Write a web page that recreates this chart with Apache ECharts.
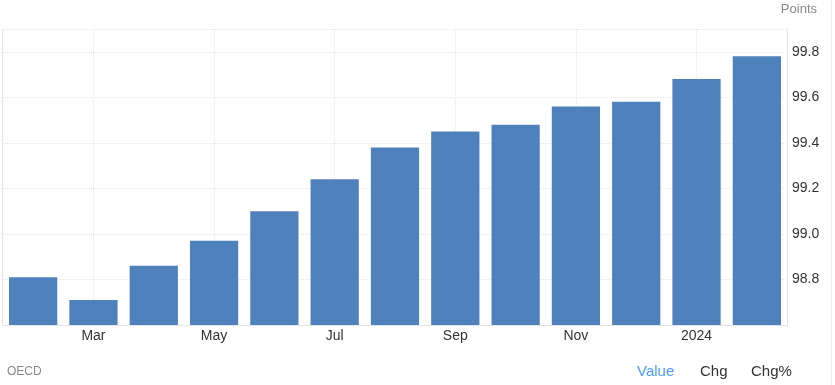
<!DOCTYPE html>
<html>
<head>
<meta charset="utf-8">
<script src="https://cdn.jsdelivr.net/npm/echarts@6/dist/echarts.min.js"></script>
<style>
html,body{margin:0;padding:0;background:#fff;}
#chart{width:835px;height:385px;}
</style>
</head>
<body>
<div id="chart"></div>
<script>
const categories = ['Feb','Mar','Apr','May','Jun','Jul','Aug','Sep','Oct','Nov','Dec','2024','Feb'];
const values = [98.81, 98.71, 98.86, 98.97, 99.10, 99.24, 99.38, 99.45, 99.48, 99.56, 99.58, 99.68, 99.78];
const yTicks = [98.8, 99.0, 99.2, 99.4, 99.6, 99.8];
const unitLabel = 'Points';
const sourceLabel = 'OECD';
const tabs = ['Value', 'Chg', 'Chg%'];

const font = '"Liberation Sans", Arial, sans-serif';
const chart = echarts.init(document.getElementById('chart'));
chart.setOption({
  animation: false,
  grid: {left: 3, right: 48, top: 29, bottom: 60, containLabel: false},
  xAxis: {
    type: 'category',
    data: categories,
    axisLine: {show: true, lineStyle: {color: '#e3e3e3', width: 1}},
    axisTick: {show: false},
    axisLabel: {
      interval: 0, margin: 4, color: '#333', fontSize: 14, fontFamily: font,
      formatter: (v, i) => (i % 2 === 1 ? v : '')
    },
    splitLine: {
      show: true, alignWithLabel: true,
      interval: (i) => i % 2 === 1,
      lineStyle: {color: '#e6e6e6', type: 'dotted', width: 1}
    }
  },
  yAxis: {
    type: 'value', position: 'right',
    min: 98.6, max: 99.9, interval: 0.2,
    axisLine: {show: true, lineStyle: {color: '#e3e3e3'}},
    axisTick: {show: false},
    axisLabel: {
      margin: 5, color: '#333', fontSize: 14, fontFamily: font,
      showMinLabel: false, showMaxLabel: false,
      formatter: (v) => {
        const t = yTicks.find(x => Math.abs(x - v) < 1e-6);
        return t !== undefined ? t.toFixed(1) : '';
      }
    },
    splitLine: {show: true, lineStyle: {color: '#e6e6e6', type: 'dotted', width: 1}}
  },
  series: [{
    type: 'bar',
    data: values,
    barCategoryGap: '20%',
    itemStyle: {color: '#4f81bd'}
  }],
  graphic: [
    {type: 'line', shape: {x1: 2.5, y1: 29, x2: 2.5, y2: 325}, style: {stroke: '#e3e3e3', lineWidth: 1}},
    {type: 'line', shape: {x1: 831.5, y1: 0, x2: 831.5, y2: 385}, style: {stroke: '#eeeeee', lineWidth: 1}},
    {type: 'text', right: 18, top: 3, style: {text: unitLabel, fill: '#888', font: '13px ' + font}},
    {type: 'text', left: 7, top: 366, style: {text: sourceLabel, fill: '#888', font: '12px ' + font}},
    {type: 'text', left: 637, top: 364, style: {text: tabs[0], fill: '#4c9bff', font: '15px ' + font}},
    {type: 'text', left: 700, top: 364, style: {text: tabs[1], fill: '#333', font: '15px ' + font}},
    {type: 'text', left: 751, top: 364, style: {text: tabs[2], fill: '#333', font: '15px ' + font}}
  ]
});
</script>
</body>
</html>
